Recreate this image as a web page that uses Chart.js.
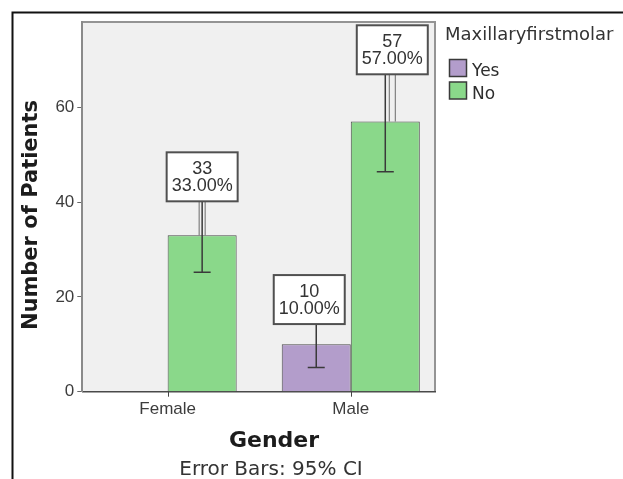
<!DOCTYPE html>
<html>
<head>
<meta charset="utf-8">
<title>Maxillary first molar by gender</title>
<script src="https://cdn.jsdelivr.net/npm/chart.js@4/dist/chart.umd.min.js"></script>
<style>
  html, body { margin: 0; padding: 0; background: #ffffff; }
  #wrap { width: 623px; height: 479px; position: relative; }
</style>
</head>
<body>
<div id="wrap"><canvas id="chart" width="623" height="479"></canvas></div>
<script>
// ---- data ----
const categories = ['Female', 'Male'];
const seriesNames = ['Yes', 'No'];
const yesCounts = [0, 10];
const noCounts = [33, 57];
// 95% confidence limits of each count
const yesCiLow = [0, 5.1];
const yesCiHigh = [0, 14.9];
const noCiLow = [25.2, 46.4];
const noCiHigh = [40.8, 67.6];
const yTickValues = [0, 20, 40, 60];

const legendTitle = 'Maxillaryfirstmolar';
const xTitle = 'Gender';
const yTitle = 'Number of Patients';
const footnote = 'Error Bars: 95% CI';

const seriesColors = ['#b39dcb', '#8ad88a'];
const grandTotal = yesCounts.concat(noCounts).reduce((a, b) => a + b, 0);

const toPoints = values => values.map((v, i) => ({ x: i, y: v }));

// plot background, frame, category ticks, titles, legend
const decorations = {
  id: 'decorations',
  beforeDraw(chart) {
    const { ctx, chartArea: a } = chart;
    ctx.save();
    ctx.fillStyle = '#f0f0f0';
    ctx.fillRect(a.left, a.top, a.right - a.left, a.bottom - a.top);
    ctx.strokeStyle = '#949494';
    ctx.lineWidth = 2;
    ctx.beginPath();
    ctx.moveTo(a.left, a.top);
    ctx.lineTo(a.right, a.top);
    ctx.lineTo(a.right, a.bottom);
    ctx.stroke();
    ctx.restore();
  },
  afterDraw(chart) {
    const { ctx, chartArea: a } = chart;
    const xScale = chart.scales.x;
    ctx.save();
    // category tick marks below the axis
    ctx.strokeStyle = '#444444';
    ctx.lineWidth = 1;
    ctx.beginPath();
    categories.forEach((_, i) => {
      const px = Math.round(xScale.getPixelForValue(i)) + 0.5;
      ctx.moveTo(px, a.bottom);
      ctx.lineTo(px, a.bottom + 5);
    });
    ctx.stroke();

    // outer frame
    ctx.strokeStyle = '#111111';
    ctx.lineWidth = 2;
    ctx.strokeRect(12.5, 12.5, 800, 800);

    // y title
    ctx.fillStyle = '#1c1c1c';
    ctx.font = 'bold 21px "DejaVu Sans"';
    ctx.textAlign = 'center';
    ctx.textBaseline = 'alphabetic';
    ctx.save();
    ctx.translate(36.5, 215);
    ctx.rotate(-Math.PI / 2);
    ctx.fillText(yTitle, 0, 0);
    ctx.restore();

    // x title and footnote
    ctx.font = 'bold 22px "DejaVu Sans"';
    ctx.fillText(xTitle, 274, 446.5);
    ctx.fillStyle = '#333333';
    ctx.font = '20px "DejaVu Sans"';
    ctx.fillText(footnote, 271, 475);

    // legend
    ctx.textAlign = 'left';
    ctx.fillStyle = '#333333';
    ctx.font = '18px "DejaVu Sans"';
    ctx.fillText(legendTitle, 445, 39.5);
    chart.data.datasets.forEach((ds, i) => {
      const top = 59.5 + i * 22.5;
      ctx.fillStyle = ds.backgroundColor;
      ctx.fillRect(449.5, top, 17, 17);
      ctx.strokeStyle = '#3a3a3a';
      ctx.lineWidth = 1.5;
      ctx.strokeRect(449.5, top, 17, 17);
      ctx.fillStyle = '#2e2e2e';
      ctx.font = '17px "DejaVu Sans"';
      ctx.fillText(ds.label, 472, top + 16.5);
    });
    ctx.restore();
  }
};

// 95% CI whiskers and value callouts
const callouts = {
  id: 'callouts',
  afterDatasetsDraw(chart) {
    const { ctx } = chart;
    const yScale = chart.scales.y;
    const sets = chart.data.datasets;
    const capHalf = 8.5;

    ctx.save();
    ctx.strokeStyle = '#3a3a3a';
    ctx.lineWidth = 1.5;
    sets.forEach((ds, di) => {
      chart.getDatasetMeta(di).data.forEach((bar, i) => {
        if (!ds.data[i].y) return;
        const lo = yScale.getPixelForValue(ds.ciLow[i]);
        const hi = yScale.getPixelForValue(ds.ciHigh[i]);
        ctx.beginPath();
        ctx.moveTo(bar.x, lo); ctx.lineTo(bar.x, hi);
        ctx.moveTo(bar.x - capHalf, lo); ctx.lineTo(bar.x + capHalf, lo);
        ctx.moveTo(bar.x - capHalf, hi); ctx.lineTo(bar.x + capHalf, hi);
        ctx.stroke();
      });
    });

    const boxW = 71, boxH = 49;
    sets.forEach((ds, di) => {
      chart.getDatasetMeta(di).data.forEach((bar, i) => {
        const v = ds.data[i].y;
        if (!v) return;
        // keep the callout clear of a neighbouring bar in the same group
        const other = sets[1 - di].data[i].y;
        const shift = other ? (di === 0 ? -7 : 7) : 0;
        const cx = bar.x + shift;
        const bottom = yScale.getPixelForValue(ds.ciHigh[i]) + 3;
        const top = bottom - boxH;
        // leader from a callout that sits well above its bar
        if (bar.y - bottom > 28) {
          ctx.strokeStyle = '#6a6a6a';
          ctx.lineWidth = 1;
          ctx.beginPath();
          ctx.moveTo(cx - 3, bottom); ctx.lineTo(cx - 3, bar.y);
          ctx.moveTo(cx + 3, bottom); ctx.lineTo(cx + 3, bar.y);
          ctx.stroke();
        }
        ctx.fillStyle = '#ffffff';
        ctx.fillRect(cx - boxW / 2, top, boxW, boxH);
        ctx.strokeStyle = '#505050';
        ctx.lineWidth = 2;
        ctx.strokeRect(cx - boxW / 2, top, boxW, boxH);
        ctx.fillStyle = '#333333';
        ctx.font = '18px "Liberation Sans"';
        ctx.textAlign = 'center';
        ctx.textBaseline = 'alphabetic';
        ctx.fillText(String(v), cx, bottom - 27);
        ctx.fillText((v / grandTotal * 100).toFixed(2) + '%', cx, bottom - 10.5);
      });
    });
    ctx.restore();
  }
};

new Chart(document.getElementById('chart'), {
  type: 'bar',
  data: {
    datasets: [
      {
        label: seriesNames[0], data: toPoints(yesCounts),
        ciLow: yesCiLow, ciHigh: yesCiHigh,
        backgroundColor: seriesColors[0], borderColor: '#4a4a4a',
        borderWidth: 1, borderSkipped: 'start'
      },
      {
        label: seriesNames[1], data: toPoints(noCounts),
        ciLow: noCiLow, ciHigh: noCiHigh,
        backgroundColor: seriesColors[1], borderColor: '#4a4a4a',
        borderWidth: 1, borderSkipped: 'start'
      }
    ]
  },
  options: {
    responsive: false,
    animation: false,
    devicePixelRatio: 1,
    categoryPercentage: 0.754,
    barPercentage: 1,
    layout: { padding: { left: 0, top: 22, right: 188, bottom: 0 } },
    plugins: {
      legend: { display: false },
      tooltip: { enabled: false },
      title: { display: false }
    },
    scales: {
      x: {
        type: 'linear',
        min: -0.466,
        max: 1.46,
        offset: false,
        z: 1,
        afterBuildTicks: s => { s.ticks = categories.map((_, i) => ({ value: i })); },
        afterFit: s => { s.height = 87.3; },
        grid: { display: false, drawTicks: false },
        border: { display: true, color: '#4a4a4a', width: 1.5 },
        ticks: {
          callback: v => categories[v] ?? '',
          color: '#3c3c3c',
          font: { family: 'Liberation Sans', size: 17 },
          padding: 7, maxRotation: 0, autoSkip: false
        }
      },
      y: {
        min: 0,
        max: 78,
        afterBuildTicks: s => { s.ticks = yTickValues.map(v => ({ value: v })); },
        afterFit: s => { s.width = 82.3; },
        grid: { drawOnChartArea: false, drawTicks: true, tickLength: 5, color: '#666666', lineWidth: 1 },
        border: { display: true, color: '#8a8a8a', width: 2 },
        ticks: {
          color: '#3c3c3c',
          font: { family: 'Liberation Sans', size: 17 },
          padding: 3
        }
      }
    }
  },
  plugins: [decorations, callouts]
});
</script>
</body>
</html>
